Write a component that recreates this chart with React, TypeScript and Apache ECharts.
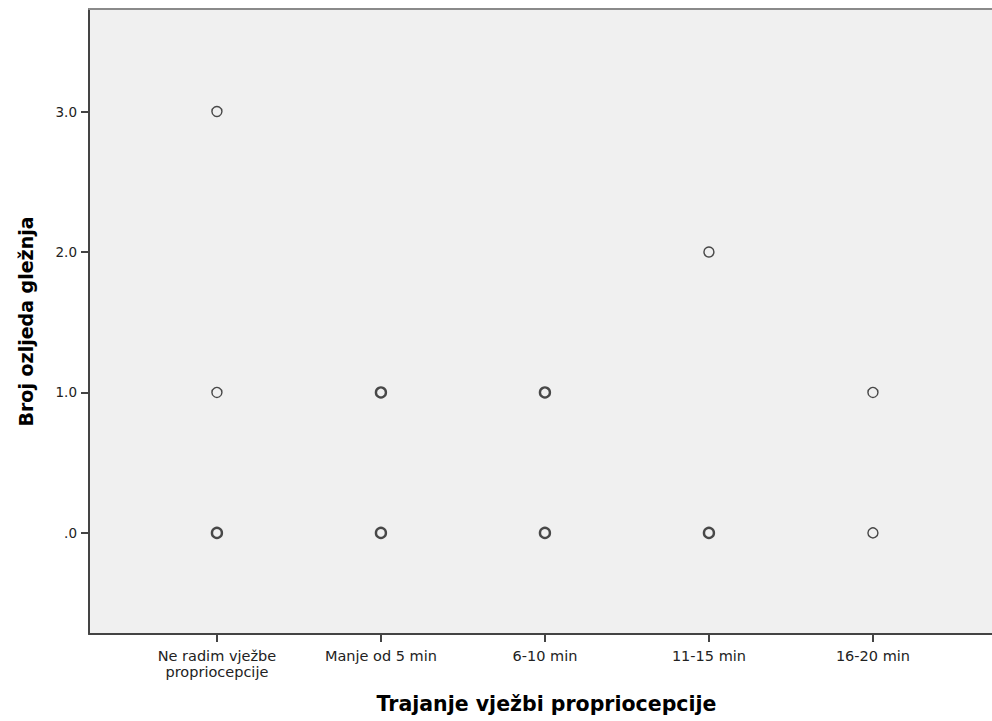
import React, { useEffect, useRef } from "react";
import * as echarts from "echarts";

const categories = [
  "Ne radim vježbe\npropriocepcije",
  "Manje od 5 min",
  "6-10 min",
  "11-15 min",
  "16-20 min",
];
// [category position (1-based), injuries, overlap count]
const points: [number, number, number][] = [
  [1, 0, 3],
  [1, 1, 1],
  [1, 3, 1],
  [2, 0, 3],
  [2, 1, 2],
  [3, 0, 3],
  [3, 1, 2],
  [4, 0, 3],
  [4, 2, 1],
  [5, 0, 1],
  [5, 1, 1],
];
const yTicks = [0, 1, 2, 3];
const yTickLabels = [".0", "1.0", "2.0", "3.0"];
const xTicks = [1, 2, 3, 4, 5];
const xTitle = "Trajanje vježbi propriocepcije";
const yTitle = "Broj ozljeda gležnja";

const FONT = "DejaVu Sans, Verdana, sans-serif";
const X_MIN = 0.22;
const X_MAX = 5.726;

export default function App() {
  const ref = useRef<HTMLDivElement>(null);
  useEffect(() => {
    if (!ref.current) return;
    const chart = echarts.init(ref.current, undefined, { renderer: "svg" });
    const single = points.filter((p) => p[2] === 1).map((p) => [p[0], p[1]]);
    const multi = points.filter((p) => p[2] > 1).map((p) => [p[0], p[1]]);
    const sym = (w: number) => ({
      type: "scatter",
      symbol: "circle",
      symbolSize: 10,
      itemStyle: { color: "transparent", borderColor: "#1e1e1e", borderWidth: w },
      silent: true,
    });
    chart.setOption({
      animation: false,
      backgroundColor: "#ffffff",
      textStyle: { fontFamily: FONT },
      grid: {
        left: 89,
        top: 9,
        right: 0,
        bottom: 87,
        show: true,
        backgroundColor: "#f0f0f0",
        borderWidth: 0,
      },
      xAxis: [
        {
          type: "value",
          min: X_MIN,
          max: X_MAX,
          name: xTitle,
          nameLocation: "middle",
          nameGap: 59,
          nameTextStyle: {
            fontSize: 20.5,
            fontWeight: "bold",
            color: "#000",
            fontFamily: FONT,
            padding: [0, 0, 0, 12],
          },
          splitLine: { show: false },
          axisLine: { show: true, onZero: false, lineStyle: { color: "#444", width: 2 } },
          axisTick: {
            show: true,
            length: 8,
            customValues: xTicks,
            lineStyle: { color: "#444", width: 2 },
          },
          axisLabel: {
            customValues: xTicks,
            formatter: (v: number) => categories[Math.round(v) - 1] ?? "",
            color: "#222",
            fontSize: 14.5,
            lineHeight: 15.8,
            margin: 14,
            fontFamily: FONT,
          },
        },
        {
          type: "value",
          position: "top",
          min: X_MIN,
          max: X_MAX,
          splitLine: { show: false },
          axisLine: { show: true, onZero: false, lineStyle: { color: "#8a8a8a", width: 2 } },
          axisTick: { show: false },
          axisLabel: { show: false },
        },
      ],
      yAxis: {
        type: "value",
        min: -0.72,
        max: 3.73,
        name: yTitle,
        nameLocation: "middle",
        nameGap: 54,
        nameTextStyle: {
          fontSize: 19,
          fontWeight: "bold",
          color: "#000",
          fontFamily: FONT,
        },
        splitLine: { show: false },
        axisLine: { show: true, onZero: false, lineStyle: { color: "#444", width: 2 } },
        axisTick: {
          show: true,
          length: 8,
          customValues: yTicks,
          lineStyle: { color: "#444", width: 2 },
        },
        axisLabel: {
          customValues: yTicks,
          formatter: (v: number) => yTickLabels[yTicks.indexOf(Math.round(v))] ?? "",
          color: "#222",
          fontSize: 13.5,
          margin: 12,
          fontFamily: FONT,
        },
      },
      series: [
        { ...sym(1.4), data: single },
        { ...sym(2.4), data: multi },
      ],
    });
    return () => chart.dispose();
  }, []);
  return (
    <div
      ref={ref}
      style={{ position: "fixed", left: 0, top: 0, width: 992, height: 721 }}
    />
  );
}
